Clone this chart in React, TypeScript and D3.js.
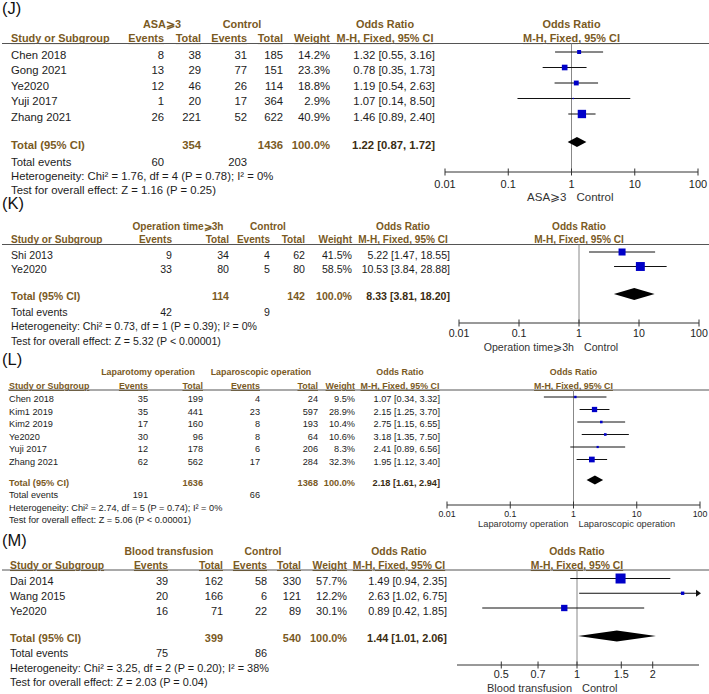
import React from "react";
import * as d3 from "d3";

// ---------------- Panel J ----------------
const studiesJ = ["Chen 2018", "Gong 2021", "Ye2020", "Yuji 2017", "Zhang 2021"];
const expEventsJ = [8, 13, 12, 1, 26];
const expTotalJ = [38, 29, 46, 20, 221];
const ctlEventsJ = [31, 77, 26, 17, 52];
const ctlTotalJ = [185, 151, 114, 364, 622];
const weightJ = [14.2, 23.3, 18.8, 2.9, 40.9];
const orJ = [1.32, 0.78, 1.19, 1.07, 1.46];
const loJ = [0.55, 0.35, 0.54, 0.14, 0.89];
const hiJ = [3.16, 1.73, 2.63, 8.5, 2.4];
const pooledJ = [1.22, 0.87, 1.72];
const totalsJ = [354, 1436];
const totalEventsJ = [60, 203];
const groupsJ = ["ASA⩾3", "Control"];
const hetJ = "Heterogeneity: Chi² = 1.76, df = 4 (P = 0.78); I² = 0%";
const testJ = "Test for overall effect: Z = 1.16 (P = 0.25)";
const ticksJ = [0.01, 0.1, 1, 10, 100];
const tickLabelsJ = ["0.01", "0.1", "1", "10", "100"];
const domainJ = [0.01, 100];

// ---------------- Panel K ----------------
const studiesK = ["Shi 2013", "Ye2020"];
const expEventsK = [9, 33];
const expTotalK = [34, 80];
const ctlEventsK = [4, 5];
const ctlTotalK = [62, 80];
const weightK = [41.5, 58.5];
const orK = [5.22, 10.53];
const loK = [1.47, 3.84];
const hiK = [18.55, 28.88];
const pooledK = [8.33, 3.81, 18.2];
const totalsK = [114, 142];
const totalEventsK = [42, 9];
const groupsK = ["Operation time⩾3h", "Control"];
const hetK = "Heterogeneity: Chi² = 0.73, df = 1 (P = 0.39); I² = 0%";
const testK = "Test for overall effect: Z = 5.32 (P < 0.00001)";
const ticksK = [0.01, 0.1, 1, 10, 100];
const tickLabelsK = ["0.01", "0.1", "1", "10", "100"];
const domainK = [0.01, 100];

// ---------------- Panel L ----------------
const studiesL = ["Chen 2018", "Kim1 2019", "Kim2 2019", "Ye2020", "Yuji 2017", "Zhang 2021"];
const expEventsL = [35, 35, 17, 30, 12, 62];
const expTotalL = [199, 441, 160, 96, 178, 562];
const ctlEventsL = [4, 23, 8, 8, 6, 17];
const ctlTotalL = [24, 597, 193, 64, 206, 284];
const weightL = [9.5, 28.9, 10.4, 10.6, 8.3, 32.3];
const orL = [1.07, 2.15, 2.75, 3.18, 2.41, 1.95];
const loL = [0.34, 1.25, 1.15, 1.35, 0.89, 1.12];
const hiL = [3.32, 3.7, 6.55, 7.5, 6.56, 3.4];
const pooledL = [2.18, 1.61, 2.94];
const totalsL = [1636, 1368];
const totalEventsL = [191, 66];
const groupsL = ["Laparotomy operation", "Laparoscopic operation"];
const hetL = "Heterogeneity: Chi² = 2.74, df = 5 (P = 0.74); I² = 0%";
const testL = "Test for overall effect: Z = 5.06 (P < 0.00001)";
const ticksL = [0.01, 0.1, 1, 10, 100];
const tickLabelsL = ["0.01", "0.1", "1", "10", "100"];
const domainL = [0.01, 100];

// ---------------- Panel M ----------------
const studiesM = ["Dai 2014", "Wang 2015", "Ye2020"];
const expEventsM = [39, 20, 16];
const expTotalM = [162, 166, 71];
const ctlEventsM = [58, 6, 22];
const ctlTotalM = [330, 121, 89];
const weightM = [57.7, 12.2, 30.1];
const orM = [1.49, 2.63, 0.89];
const loM = [0.94, 1.02, 0.42];
const hiM = [2.35, 6.75, 1.85];
const pooledM = [1.44, 1.01, 2.06];
const totalsM = [399, 540];
const totalEventsM = [75, 86];
const groupsM = ["Blood transfusion", "Control"];
const hetM = "Heterogeneity: Chi² = 3.25, df = 2 (P = 0.20); I² = 38%";
const testM = "Test for overall effect: Z = 2.03 (P = 0.04)";
const ticksM = [0.5, 0.7, 1, 1.5, 2];
const tickLabelsM = ["0.5", "0.7", "1", "1.5", "2"];
const domainM = [1 / 3, 3];

const headerLabels = ["Study or Subgroup", "Events", "Total", "Events", "Total", "Weight"];

// ---------------- layout (positions & styles) ----------------
const FONT = "'Liberation Sans', Arial, Helvetica, sans-serif";
const BROWN = "#7a5a1f";
const TOTAL_OR = "#3a2c12";
const TEXT = "#1c1c1c";
const BLUE = "#0000c8";

const panels = [
  {
    label: "(J)", labelY: 14,
    groupY: 28, headY: 42, lineY: 43.5, lineX0: 2,
    row0: 58.5, rowStep: 15.5, totalY: 149, eventsY: 165.5, hetY: 180, testY: 194,
    axisY: 172, tickY: 188, legendY: 201,
    fs: 11.3, hfs: 10.9, tfs: 11, lfs: 11.5,
    studyX: 11, cols: [164, 201, 247, 283, 330], orX: 435, orHeadX: 385, groupX: [162, 242],
    range: [445, 698], sq100: 15.6, dH: 10, mOff: 6.5, dOff: 7,
    data: {
      studies: studiesJ, expEvents: expEventsJ, expTotal: expTotalJ, ctlEvents: ctlEventsJ, ctlTotal: ctlTotalJ,
      weight: weightJ, or: orJ, lo: loJ, hi: hiJ, pooled: pooledJ, totals: totalsJ, totalEvents: totalEventsJ,
      groups: groupsJ, het: hetJ, test: testJ, ticks: ticksJ, tickLabels: tickLabelsJ, domain: domainJ,
    },
  },
  {
    label: "(K)", labelY: 209,
    groupY: 230, headY: 243, lineY: 244.5, lineX0: 2,
    row0: 258.5, rowStep: 14.5, totalY: 300, eventsY: 316, hetY: 329.5, testY: 344.5,
    axisY: 323, tickY: 337, legendY: 350.5,
    fs: 10.6, hfs: 10.1, tfs: 10.6, lfs: 10.6,
    studyX: 11, cols: [172, 229, 270, 305, 352], orX: 450, orHeadX: 403, groupX: [178, 268],
    range: [459, 699], sq100: 13, dH: 12, mOff: 6.5, dOff: 6,
    data: {
      studies: studiesK, expEvents: expEventsK, expTotal: expTotalK, ctlEvents: ctlEventsK, ctlTotal: ctlTotalK,
      weight: weightK, or: orK, lo: loK, hi: hiK, pooled: pooledK, totals: totalsK, totalEvents: totalEventsK,
      groups: groupsK, het: hetK, test: testK, ticks: ticksK, tickLabels: tickLabelsK, domain: domainK,
    },
  },
  {
    label: "(L)", labelY: 365,
    groupY: 375, headY: 389, lineY: 390, lineX0: 8,
    row0: 402, rowStep: 12.5, totalY: 485.5, eventsY: 498, hetY: 510.5, testY: 523,
    axisY: 505, tickY: 516.5, legendY: 527,
    fs: 9.2, hfs: 8.9, tfs: 8.8, lfs: 9.3,
    studyX: 9, cols: [148, 203, 260, 318, 355], orX: 440, orHeadX: 400, groupX: [148, 261],
    range: [447, 700], sq100: 12.6, dH: 9, mOff: 5, dOff: 5.5,
    data: {
      studies: studiesL, expEvents: expEventsL, expTotal: expTotalL, ctlEvents: ctlEventsL, ctlTotal: ctlTotalL,
      weight: weightL, or: orL, lo: loL, hi: hiL, pooled: pooledL, totals: totalsL, totalEvents: totalEventsL,
      groups: groupsL, het: hetL, test: testL, ticks: ticksL, tickLabels: tickLabelsL, domain: domainL,
    },
  },
  {
    label: "(M)", labelY: 546,
    groupY: 555, headY: 569, lineY: 570, lineX0: 2,
    row0: 585, rowStep: 14.75, totalY: 641.5, eventsY: 657, hetY: 672, testY: 686,
    axisY: 665, tickY: 678, legendY: 692,
    fs: 10.9, hfs: 10.4, tfs: 10.8, lfs: 11,
    studyX: 10, cols: [168, 223, 267, 301, 347], orX: 447, orHeadX: 399, groupX: [169, 263],
    range: [457, 697], sq100: 14.7, dH: 11, mOff: 6.5, dOff: 5.5,
    data: {
      studies: studiesM, expEvents: expEventsM, expTotal: expTotalM, ctlEvents: ctlEventsM, ctlTotal: ctlTotalM,
      weight: weightM, or: orM, lo: loM, hi: hiM, pooled: pooledM, totals: totalsM, totalEvents: totalEventsM,
      groups: groupsM, het: hetM, test: testM, ticks: ticksM, tickLabels: tickLabelsM, domain: domainM,
    },
  },
];

const fmtCI = (o: number, l: number, h: number) => `${o.toFixed(2)} [${l.toFixed(2)}, ${h.toFixed(2)}]`;

function Panel({ p }: { p: any }) {
  const d = p.data;
  const x = d3.scaleLog().domain(d.domain).range(p.range);
  const size = d3.scalePow().exponent(0.7).domain([0, 100]).range([0, p.sq100]);
  const y = (i: number) => p.row0 + i * p.rowStep;
  const x1 = x(1);
  const [dMin, dMax] = d.domain;
  const headXs = [p.studyX, ...p.cols];
  const pooledCy = p.totalY - p.dOff;
  const [po, pl, ph] = d.pooled;

  return (
    <g fontFamily={FONT}>
      <text x={2} y={p.labelY} fontSize={16.5} fill="#111">{p.label}</text>

      {/* group header row */}
      <g fontSize={p.hfs} fontWeight="bold" fill={BROWN} textAnchor="middle">
        <text x={p.groupX[0]} y={p.groupY}>{d.groups[0]}</text>
        <text x={p.groupX[1]} y={p.groupY}>{d.groups[1]}</text>
        <text x={p.orHeadX} y={p.groupY}>Odds Ratio</text>
        <text x={x1} y={p.groupY}>Odds Ratio</text>
      </g>

      {/* column header row */}
      <g fontSize={p.hfs} fontWeight="bold" fill={BROWN}>
        {headerLabels.map((h, i) => (
          <text key={i} x={headXs[i]} y={p.headY} textAnchor={i === 0 ? "start" : "end"}
            textDecoration="underline">{h}</text>
        ))}
        <text x={p.orHeadX} y={p.headY} textAnchor="middle" textDecoration="underline">M-H, Fixed, 95% CI</text>
        <text x={x1} y={p.headY} textAnchor="middle" textDecoration="underline">M-H, Fixed, 95% CI</text>
      </g>
      <line x1={p.lineX0} x2={709} y1={p.lineY} y2={p.lineY} stroke="#555" strokeWidth={1} />

      {/* study rows */}
      <g fontSize={p.fs} fill={TEXT}>
        {d.studies.map((s: string, i: number) => (
          <g key={s + i}>
            <text x={p.studyX} y={y(i)}>{s}</text>
            <text x={p.cols[0]} y={y(i)} textAnchor="end">{d.expEvents[i]}</text>
            <text x={p.cols[1]} y={y(i)} textAnchor="end">{d.expTotal[i]}</text>
            <text x={p.cols[2]} y={y(i)} textAnchor="end">{d.ctlEvents[i]}</text>
            <text x={p.cols[3]} y={y(i)} textAnchor="end">{d.ctlTotal[i]}</text>
            <text x={p.cols[4]} y={y(i)} textAnchor="end">{d.weight[i].toFixed(1)}%</text>
            <text x={p.orX} y={y(i)} textAnchor="end">{fmtCI(d.or[i], d.lo[i], d.hi[i])}</text>
          </g>
        ))}
      </g>

      {/* total row */}
      <g fontSize={p.fs} fontWeight="bold" fill={BROWN}>
        <text x={p.studyX} y={p.totalY}>Total (95% CI)</text>
        <text x={p.cols[1]} y={p.totalY} textAnchor="end">{d.totals[0]}</text>
        <text x={p.cols[3]} y={p.totalY} textAnchor="end">{d.totals[1]}</text>
        <text x={p.cols[4]} y={p.totalY} textAnchor="end">100.0%</text>
        <text x={p.orX} y={p.totalY} textAnchor="end" fill={TOTAL_OR}>{fmtCI(po, pl, ph)}</text>
      </g>
      <g fontSize={p.fs} fill={TEXT}>
        <text x={p.studyX} y={p.eventsY}>Total events</text>
        <text x={p.cols[0]} y={p.eventsY} textAnchor="end">{d.totalEvents[0]}</text>
        <text x={p.cols[2]} y={p.eventsY} textAnchor="end">{d.totalEvents[1]}</text>
        <text x={p.studyX} y={p.hetY}>{d.het}</text>
        <text x={p.studyX} y={p.testY}>{d.test}</text>
      </g>

      {/* plot */}
      <line x1={x1} x2={x1} y1={p.lineY} y2={p.axisY} stroke="#888" strokeWidth={1} />
      {d.studies.map((s: string, i: number) => {
        const cy = y(i) - p.mOff;
        const lo = Math.max(d.lo[i], dMin);
        const hi = Math.min(d.hi[i], dMax);
        const side = size(d.weight[i]);
        const clippedHi = d.hi[i] > dMax;
        const xe = x(hi);
        return (
          <g key={"m" + i}>
            <line x1={x(lo)} x2={xe} y1={cy} y2={cy} stroke="#111" strokeWidth={1} />
            {clippedHi && (
              <path d={`M${xe - 1},${cy - 3.5} L${xe + 4},${cy} L${xe - 1},${cy + 3.5} Z`} fill="#111" />
            )}
            <rect x={x(d.or[i]) - side / 2} y={cy - side / 2} width={side} height={side} fill={BLUE} />
          </g>
        );
      })}
      <path
        d={`M${x(pl)},${pooledCy} L${x(po)},${pooledCy - p.dH / 2} L${x(ph)},${pooledCy} L${x(po)},${pooledCy + p.dH / 2} Z`}
        fill="#000"
      />

      {/* axis */}
      <line x1={p.range[0]} x2={p.range[1] + (d.domain[1] === 3 ? 2 : 0)} y1={p.axisY} y2={p.axisY} stroke="#333" strokeWidth={1} />
      {d.ticks.map((t: number, i: number) => (
        <g key={"t" + i}>
          <line x1={x(t)} x2={x(t)} y1={p.axisY - 3.5} y2={p.axisY + 3.5} stroke="#333" strokeWidth={1} />
          <text x={x(t)} y={p.tickY} fontSize={p.tfs} textAnchor="middle" fill={TEXT}>{d.tickLabels[i]}</text>
        </g>
      ))}
      <text x={x1 - 5} y={p.legendY} fontSize={p.lfs} textAnchor="end" fill="#333">{d.groups[0]}</text>
      <text x={x1 + 5} y={p.legendY} fontSize={p.lfs} textAnchor="start" fill="#333">{d.groups[1]}</text>
    </g>
  );
}

export default function App() {
  return (
    <svg
      width={709}
      height={694}
      viewBox="0 0 709 694"
      style={{ position: "absolute", left: 0, top: 0, background: "#fff" }}
    >
      <rect x={0} y={0} width={709} height={694} fill="#fff" />
      {panels.map((p) => (
        <Panel key={p.label} p={p} />
      ))}
    </svg>
  );
}
